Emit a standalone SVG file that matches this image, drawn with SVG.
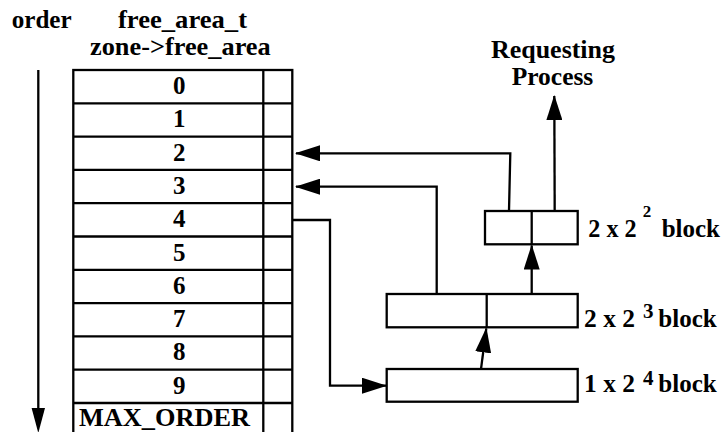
<svg xmlns="http://www.w3.org/2000/svg" width="725" height="432" viewBox="0 0 725 432">
  <style>
    text { font-family: "Liberation Serif", "Times New Roman", serif; font-weight: bold; fill: #000; }
    .t { font-size: 25px; }
    .sup { font-size: 17px; }
    .sup2 { font-size: 21px; }
    .box { fill: #fff; stroke: #000; stroke-width: 2.3; }
    .ln { fill: none; stroke: #000; stroke-width: 2.3; }
    .wire { fill: none; stroke: #000; stroke-width: 2.3; stroke-linejoin: miter; }
  </style>
  <defs>
    <marker id="head" viewBox="0 0 25 16" refX="24" refY="8" markerWidth="25" markerHeight="16" markerUnits="userSpaceOnUse" orient="auto">
      <path d="M0,0 L25,8 L0,16 Z" fill="#000"/>
    </marker>
  </defs>
  <rect width="725" height="432" fill="#fff"/>

  <!-- column headings -->
  <g id="headings">
    <text class="t" x="11.7" y="28.3" textLength="60" lengthAdjust="spacingAndGlyphs">order</text>
    <text class="t" x="118" y="28.3" textLength="129" lengthAdjust="spacingAndGlyphs">free_area_t</text>
    <text class="t" x="90" y="55" textLength="180.7" lengthAdjust="spacingAndGlyphs">zone-&gt;free_area</text>
  </g>

  <!-- free_area array, one row per order -->
  <g id="free_area">
    <rect class="box" x="73.3" y="70" width="219" height="380"/>
    <line class="ln" x1="263.3" y1="70" x2="263.3" y2="450"/>
    <g class="ln">
      <line x1="73.3" y1="103.3" x2="292.3" y2="103.3"/>
      <line x1="73.3" y1="136.6" x2="292.3" y2="136.6"/>
      <line x1="73.3" y1="169.9" x2="292.3" y2="169.9"/>
      <line x1="73.3" y1="203.2" x2="292.3" y2="203.2"/>
      <line x1="73.3" y1="236.5" x2="292.3" y2="236.5"/>
      <line x1="73.3" y1="269.8" x2="292.3" y2="269.8"/>
      <line x1="73.3" y1="303.1" x2="292.3" y2="303.1"/>
      <line x1="73.3" y1="336.4" x2="292.3" y2="336.4"/>
      <line x1="73.3" y1="369.7" x2="292.3" y2="369.7"/>
      <line x1="73.3" y1="403" x2="292.3" y2="403"/>
    </g>
    <g class="t" text-anchor="middle">
      <text x="179.3" y="94">0</text>
      <text x="179.3" y="127.3">1</text>
      <text x="179.3" y="160.6">2</text>
      <text x="179.3" y="193.9">3</text>
      <text x="179.3" y="227.2">4</text>
      <text x="179.3" y="260.5">5</text>
      <text x="179.3" y="293.8">6</text>
      <text x="179.3" y="327.1">7</text>
      <text x="179.3" y="360.4">8</text>
      <text x="179.3" y="393.7">9</text>
    </g>
    <text class="t" x="79" y="425.5" textLength="171" lengthAdjust="spacingAndGlyphs">MAX_ORDER</text>
  </g>

  <!-- blocks -->
  <g id="block-2x2-2">
    <rect class="box" x="485" y="211" width="92.7" height="33.3"/>
    <line class="ln" x1="531.7" y1="211" x2="531.7" y2="244.3"/>
    <text class="t" x="588.3" y="236.7" textLength="48.4" lengthAdjust="spacingAndGlyphs">2 x 2</text>
    <text class="sup" x="642.7" y="216.7">2</text>
    <text class="t" x="661.7" y="236.7" textLength="58.3" lengthAdjust="spacingAndGlyphs">block</text>
  </g>
  <g id="block-2x2-3">
    <rect class="box" x="386.7" y="294" width="191" height="33.3"/>
    <line class="ln" x1="486.7" y1="294" x2="486.7" y2="327.3"/>
    <text class="t" x="584" y="326.7" textLength="51" lengthAdjust="spacingAndGlyphs">2 x 2</text>
    <text class="sup2" x="643" y="318.3">3</text>
    <text class="t" x="658.3" y="326.7" textLength="58.4" lengthAdjust="spacingAndGlyphs">block</text>
  </g>
  <g id="block-1x2-4">
    <rect class="box" x="386.7" y="369" width="191" height="32.7"/>
    <text class="t" x="584" y="392.3" textLength="51" lengthAdjust="spacingAndGlyphs">1 x 2</text>
    <text class="sup2" x="643" y="384.5">4</text>
    <text class="t" x="658.3" y="392.3" textLength="58.4" lengthAdjust="spacingAndGlyphs">block</text>
  </g>
  <g id="requesting-process">
    <text class="t" x="491" y="58.3" textLength="124" lengthAdjust="spacingAndGlyphs">Requesting</text>
    <text class="t" x="511.7" y="85" textLength="81.6" lengthAdjust="spacingAndGlyphs">Process</text>
  </g>

  <!-- connectors -->
  <g id="connectors">
    <line class="ln" x1="38.3" y1="70" x2="38.3" y2="410"/>
    <polygon points="31.6,408 45,408 38.3,433" fill="#000"/>
    <path class="wire" d="M509,211 L510.3,153.3 L296,153.3" marker-end="url(#head)"/>
    <path class="wire" d="M436.7,294 L436.7,186.7 L296,186.7" marker-end="url(#head)"/>
    <path class="wire" d="M293,220 L330,220 L330,385.7 L386,385.7" marker-end="url(#head)"/>
    <path class="wire" d="M481,369 L486.3,328.5" marker-end="url(#head)"/>
    <path class="wire" d="M531.7,294 L531.7,245.5" marker-end="url(#head)"/>
    <path class="wire" d="M554.7,211 L554.3,96" marker-end="url(#head)"/>
  </g>
</svg>
